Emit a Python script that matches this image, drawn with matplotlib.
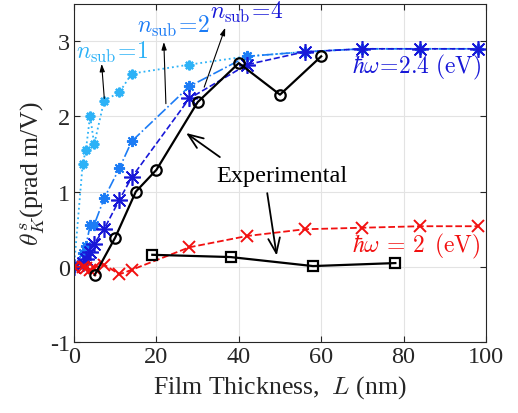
import matplotlib
matplotlib.use("Agg")
import matplotlib.pyplot as plt

plt.rcParams['font.family'] = ['Liberation Serif', 'DejaVu Serif']
plt.rcParams['mathtext.fontset'] = 'cm'
plt.rcParams['axes.unicode_minus'] = False

# Theory thickness grid (nm)
L_th = [0, 2.1, 2.9, 3.9, 4.9, 7.3, 11, 14, 28, 42, 56, 70, 84, 98]
n_sub1 = [0, 1.37, 1.56, 2.01, 1.63, 2.21, 2.32, 2.57, 2.69, 2.80, 2.86, 2.90, 2.90, 2.90]
n_sub2 = [0, 0.19, 0.28, 0.55, 0.56, 0.91, 1.31, 1.67, 2.40, 2.80, 2.86, 2.90, 2.90, 2.90]
n_sub4 = [0, 0.05, 0.10, 0.20, 0.31, 0.50, 0.89, 1.19, 2.24, 2.69, 2.86, 2.90, 2.90, 2.90]
red_2eV = [0, 0.0, -0.02, -0.04, -0.01, 0.03, -0.10, -0.04, 0.26, 0.41, 0.50, 0.52, 0.54, 0.54]

# Experimental
L_exp_c = [5, 10, 15, 20, 30, 40, 50, 60]
exp_c = [-0.11, 0.39, 1.00, 1.29, 2.19, 2.71, 2.29, 2.80]
L_exp_s = [19, 38, 58, 78]
exp_s = [0.16, 0.13, 0.01, 0.05]

c1 = '#2DB2F7'
c2 = '#1C7CF5'
c4 = '#1818D8'
cr = '#F21010'

fig = plt.figure(figsize=(5.18, 4.14), dpi=100)
ax = fig.add_axes([0.1429, 0.1715, 0.7953, 0.8171])

star = (8, 2, 0)
ax.plot(L_th, n_sub1, ':', color=c1, lw=1.3, marker=star, ms=7, mew=1.6)
ax.plot(L_th, n_sub2, '-.', color=c2, lw=1.2, marker=star, ms=8, mew=1.4)
ax.plot(L_th, n_sub4, '--', color=c4, lw=1.2, marker=star, ms=12, mew=1.2)
ax.plot(L_th, red_2eV, '--', color=cr, lw=1.3, marker='x', ms=8, mew=1.4)
ax.plot(L_exp_c, exp_c, '-', color='black', lw=1.6, marker='o', ms=7.5, mfc='none', mew=1.6)
ax.plot(L_exp_s, exp_s, '-', color='black', lw=1.6, marker='s', ms=7.5, mfc='none', mew=1.6)

ax.set_xlim(0, 100)
ax.set_ylim(-1, 3.5)
ax.set_xticks([0, 20, 40, 60, 80, 100])
ax.set_yticks([-1, 0, 1, 2, 3])
ax.grid(True, color='#E3E3E3', lw=0.8)
ax.set_axisbelow(True)
ax.tick_params(direction='in', top=True, right=True, labelsize=17.5, colors='#262626', length=4, pad=3)
for s in ax.spines.values():
    s.set_color('#262626')
    s.set_linewidth(0.8)

ax.set_xlabel(r'Film Thickness,  $\mathit{L}$ (nm)', fontsize=18.5, color='#262626', labelpad=4)
ax.set_ylabel(r'$\theta_K^s$(prad m/V)', fontsize=18.5, color='#262626', labelpad=2)

fs = 17
ax.text(0.6, 2.86, r'$n_{\rm sub}\!=\!1$', color=c1, fontsize=fs, va='center', ha='left')
ax.text(15.3, 3.21, r'$n_{\rm sub}\!=\!2$', color=c2, fontsize=fs, va='center', ha='left')
ax.text(33.0, 3.40, r'$n_{\rm sub}\!=\!4$', color=c4, fontsize=fs, va='center', ha='left')
ax.text(67.5, 2.66, r'$\hbar\omega\!=\!2.4\ (\mathrm{eV})$', color=c4, fontsize=fs, va='center', ha='left')
ax.text(67.5, 0.29, r'$\hbar\omega\, =\, 2\ \,(\mathrm{eV})$', color=cr, fontsize=fs, va='center', ha='left')
ax.text(34.5, 1.22, 'Experimental', color='black', fontsize=17.5, va='center', ha='left')

small = dict(arrowstyle='-|>,head_width=0.15,head_length=0.45', color='black', lw=0.8, mutation_scale=10,
             shrinkA=0, shrinkB=0)
big = dict(arrowstyle='->,head_width=0.35,head_length=0.9', color='black', lw=1.3, mutation_scale=12,
           shrinkA=0, shrinkB=0)
ax.annotate('', xy=(6.7, 2.70), xytext=(7.35, 2.24), arrowprops=small)
ax.annotate('', xy=(21.8, 2.99), xytext=(22.3, 2.17), arrowprops=small)
ax.annotate('', xy=(36.7, 3.18), xytext=(31.6, 2.39), arrowprops=small)
ax.annotate('', xy=(27.2, 1.78), xytext=(35.4, 1.46), arrowprops=big)
ax.annotate('', xy=(49.2, 0.15), xytext=(46.9, 0.98), arrowprops=big)

fig.savefig('out.png', dpi=100)
